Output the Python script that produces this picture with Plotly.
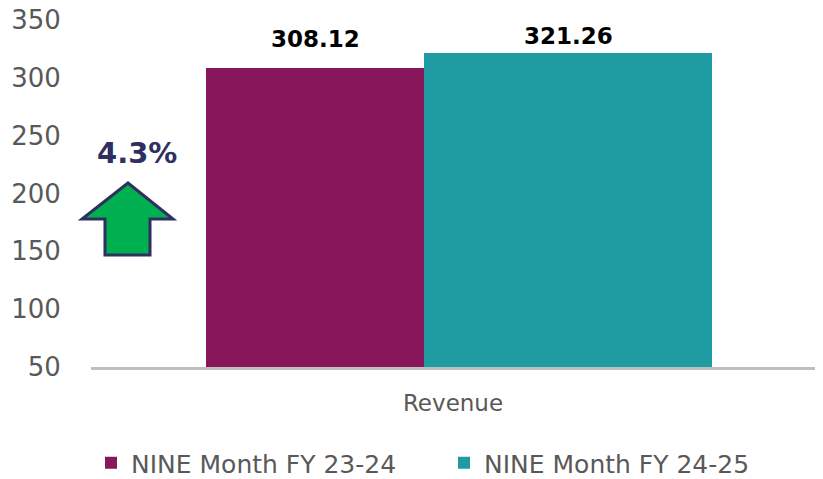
import plotly.graph_objects as go

# data
category = "Revenue"
series_names = ["NINE Month FY 23-24", "NINE Month FY 24-25"]
series_values = [308.12, 321.26]
growth_label = "4.3%"
y_ticks = [50, 100, 150, 200, 250, 300, 350]

colors = ["#87175A", "#1F9CA2"]
FONT = "DejaVu Sans"

# plot area in screen pixels (body margin removed below)
L, R, T, B = 91, 815, 20, 367
W, H = 823, 479


def px(x, y):
    return (x - L) / (R - L), (B - y) / (B - T)


fig = go.Figure()

# bars on a numeric axis so the two bars can have their own widths
bar_pos = [(0.159 + 0.460) / 2, (0.460 + 0.858) / 2]
bar_w = [0.460 - 0.159, 0.858 - 0.460]
label_shift = [29, 17]
for i in range(2):
    fig.add_trace(go.Bar(
        x=[bar_pos[i]], y=[series_values[i]], width=[bar_w[i]],
        name=series_names[i], marker_color=colors[i], marker_line_width=0,
    ))
    fig.add_annotation(x=bar_pos[i], y=series_values[i], text=f"<b>{series_values[i]:.2f}</b>",
                       showarrow=False, yanchor="middle", yshift=label_shift[i],
                       font=dict(family=FONT, size=23, color="#000000"))

# green arrow
pts = [(128, 183), (173, 219), (150, 219), (150, 255), (105, 255), (105, 219), (82, 219)]
path = "M " + " L ".join(f"{px(a, b)[0]:.4f},{px(a, b)[1]:.4f}" for a, b in pts) + " Z"
fig.add_shape(type="path", path=path, xref="paper", yref="paper",
              fillcolor="#00B050", line=dict(color="#2E3060", width=3))

tx, ty = px(137, 153)
fig.add_annotation(text=f"<b>{growth_label}</b>", x=tx, y=ty, xref="paper", yref="paper",
                   xanchor="center", yanchor="middle", showarrow=False,
                   font=dict(family=FONT, size=29, color="#2E3060"))

fig.update_layout(
    width=W, height=H, barmode="overlay", bargap=0,
    plot_bgcolor="white", paper_bgcolor="white",
    margin=dict(l=L, r=W - R, t=T, b=H - B, autoexpand=False),
    font=dict(family=FONT, color="#595959"),
    showlegend=True,
    legend=dict(orientation="h", x=0, xanchor="left",
                yref="container", y=1 - 463 / H, yanchor="middle",
                font=dict(family=FONT, size=25, color="#595959"),
                itemwidth=30, tracegroupgap=0, entrywidth=308, entrywidthmode="pixels"),
)
fig.update_xaxes(range=[0, 1], tickvals=[0.5], ticktext=[category], showgrid=False,
                 showline=True, linecolor="#BFBFBF", linewidth=3,
                 ticks="outside", ticklen=13, tickcolor="rgba(0,0,0,0)",
                 automargin=False,
                 tickfont=dict(family=FONT, size=23, color="#595959"), zeroline=False)
fig.update_yaxes(range=[50, 350], tickvals=y_ticks, showgrid=False, showline=False,
                 zeroline=False, ticks="outside", ticklen=24, tickcolor="rgba(0,0,0,0)",
                 automargin=False, ticklabeloverflow="allow",
                 tickfont=dict(family=FONT, size=26, color="#595959"))

fig.write_html("out.html", config={"displayModeBar": False},
               post_script="document.body.style.margin='0';")
